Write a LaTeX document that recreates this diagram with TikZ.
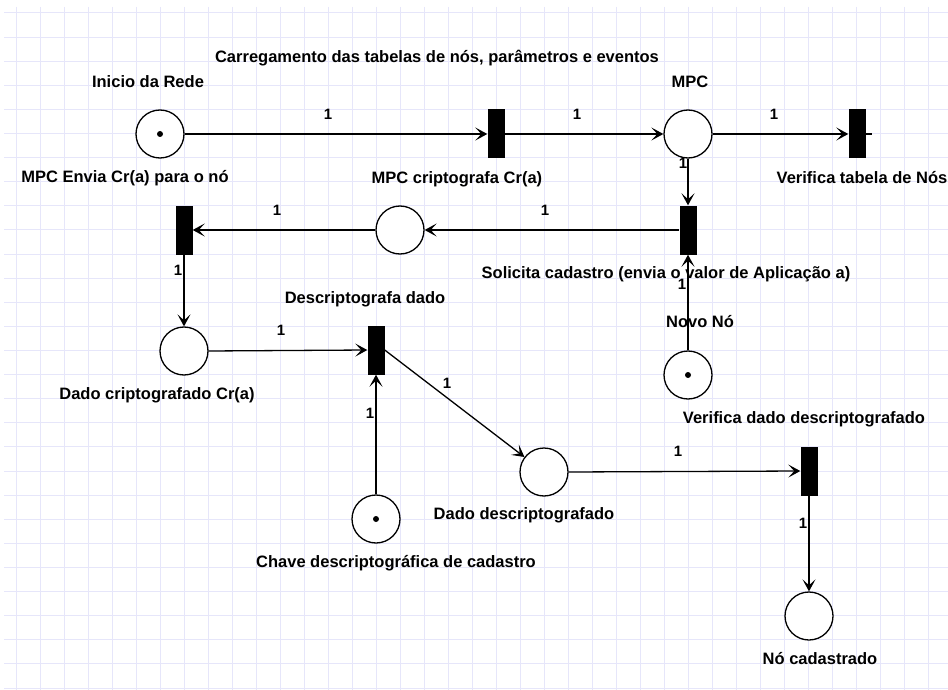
\documentclass[tikz,border=0pt]{standalone}
\usepackage{fontspec}
\setmainfont{Liberation Sans}
\usetikzlibrary{arrows.meta}
\definecolor{gridc}{RGB}{230,230,250}
\begin{document}
\begin{tikzpicture}[x=1pt,y=-1pt,
  place/.style={circle,draw,line width=1.3pt,minimum size=48pt,inner sep=0pt,fill=white},
  trans/.style={rectangle,fill=black,minimum width=17pt,minimum height=49pt,inner sep=0pt},
  lbl/.style={font=\bfseries\fontsize{16.5}{19}\selectfont,inner sep=0pt},
  wt/.style={font=\bfseries\fontsize{15}{17}\selectfont,inner sep=0pt},
  flow/.style={line width=1.3pt,-{Stealth[length=12pt,width=13pt,inset=6pt]}},
  plain/.style={line width=1.3pt},
  tok/.style={circle,fill=black,minimum size=6pt,inner sep=0pt}]
\useasboundingbox (0,0) rectangle (948,690);
\fill[white] (0,0) rectangle (948,690);
% grid
\foreach \i in {0,...,38} \draw[gridc,line width=1pt] (16+24*\i,7) -- (16+24*\i,690);
\foreach \k in {0,...,28} \draw[gridc,line width=1pt] (4,13+24.11*\k) -- (948,13+24.11*\k);

% places and transitions
\node[place] (pin) at (160,134) {};
\node[tok] (kin) at (pin) {};
\node[trans] (t1) at (496,134) {};
\node[place] (pmpc) at (688,134) {};
\node[trans] (tver) at (857,134) {};
\coordinate (stub) at (872,134);
\node[trans] (tsol) at (688,230) {};
\node[place] (pcri) at (400,230) {};
\node[trans] (tenv) at (184,230) {};
\node[place] (pdc) at (184,351) {};
\node[trans] (tdesc) at (376,350) {};
\node[place] (pnovo) at (688,375) {};
\node[tok] (knovo) at (pnovo) {};
\node[place] (pchave) at (376,519) {};
\node[tok] (kchave) at (pchave) {};
\node[place] (pdd) at (544,472) {};
\node[trans] (tvd) at (809,471) {};
\node[place] (pnc) at (809,616) {};

% arcs
\draw[flow] (pin.east) -- (t1.west);
\draw[flow] (t1.east) -- (pmpc.west);
\draw[flow] (pmpc.east) -- (tver.west);
\draw[plain] (tver.east) -- (stub);
\draw[flow] (pmpc.south) -- (tsol.north);
\draw[flow] (tsol.west) -- (pcri.east);
\draw[flow] (pcri.west) -- (tenv.east);
\draw[flow] (tenv.south) -- (pdc.north);
\draw[flow] (pnovo.north) -- (tsol.south);
\draw[flow] (pdc.east) -- (tdesc.west);
\draw[flow] (pchave.north) -- (tdesc.south);
\draw[flow] (tdesc.east) -- (pdd);
\draw[flow] (pdd.east) -- (tvd.west);
\draw[flow] (tvd.south) -- (pnc.north);

% labels
\node[lbl] (l1) at (437,58) {Carregamento das tabelas de nós, parâmetros e eventos};
\node[lbl] (l2) at (148,82) {Inicio da Rede};
\node[lbl] (l3) at (690,82) {MPC};
\node[lbl] (l4) at (125,178) {MPC Envia Cr(a) para o nó};
\node[lbl] (l5) at (457,179) {MPC criptografa Cr(a)};
\node[lbl] (l6) at (862,178) {Verifica tabela de Nós};
\node[lbl] (l7) at (666,274) {Solicita cadastro (envia o valor de Aplicação a)};
\node[lbl] (l8) at (365,299) {Descriptografa dado};
\node[lbl] (l9) at (700,322) {Novo Nó};
\node[lbl] (l10) at (157,395) {Dado criptografado Cr(a)};
\node[lbl] (l11) at (804,419) {Verifica dado descriptografado};
\node[lbl] (l12) at (524,515) {Dado descriptografado};
\node[lbl] (l13) at (396,563) {Chave descriptográfica de cadastro};
\node[lbl] (l14) at (820,659) {Nó cadastrado};

% weights
\node[wt] (w1) at (328,114) {1};
\node[wt] (w2) at (577,114) {1};
\node[wt] (w3) at (774,114) {1};
\node[wt] (w4) at (683,163) {1};
\node[wt] (w5) at (277,210) {1};
\node[wt] (w6) at (545,210) {1};
\node[wt] (w7) at (178,270) {1};
\node[wt] (w8) at (281,330) {1};
\node[wt] (w9) at (447,383) {1};
\node[wt] (w10) at (370,413) {1};
\node[wt] (w11) at (682,284) {1};
\node[wt] (w12) at (678,451) {1};
\node[wt] (w13) at (803,523) {1};
\end{tikzpicture}
\end{document}
